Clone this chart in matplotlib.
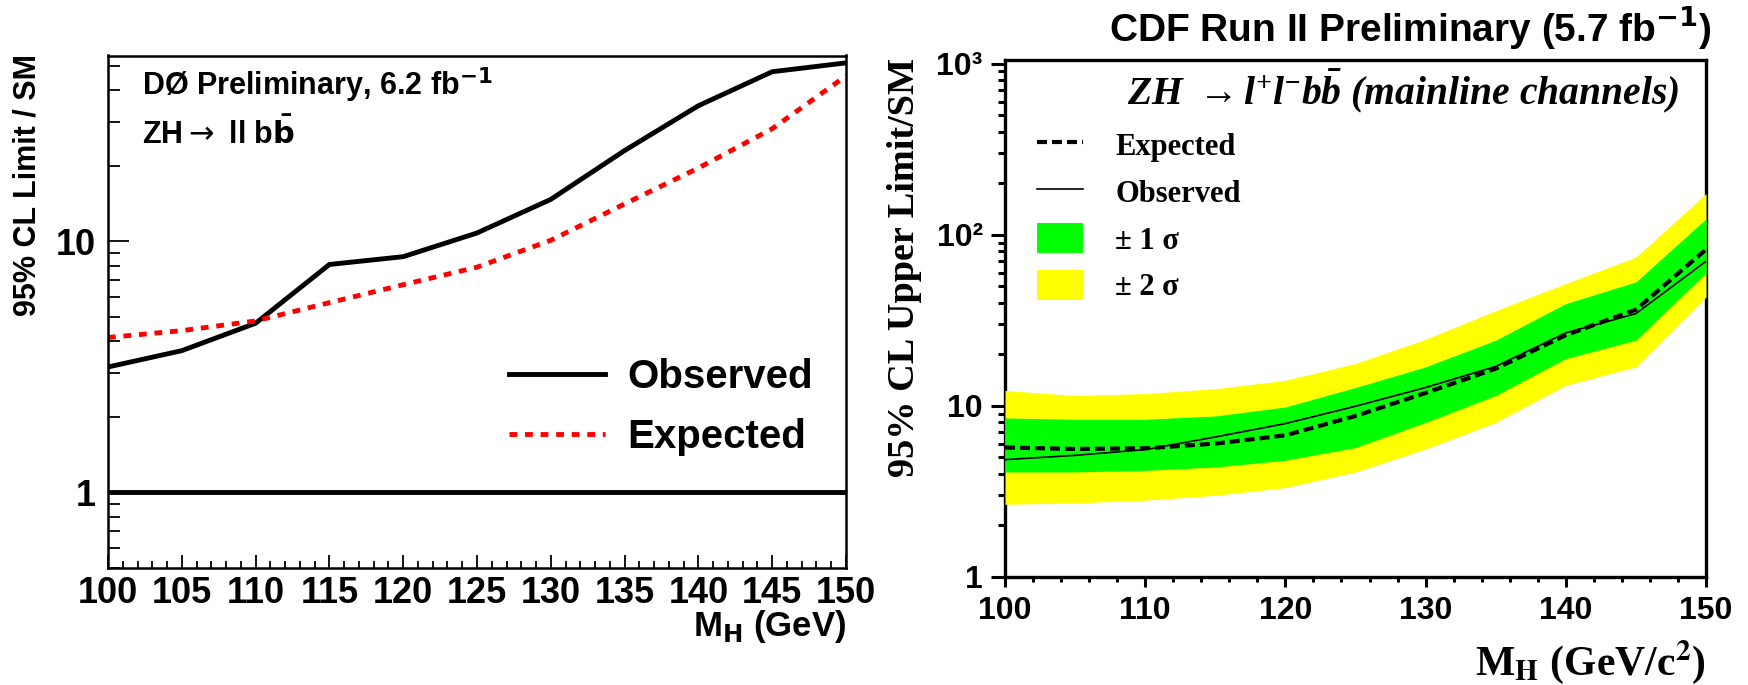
import matplotlib
matplotlib.use("Agg")
import matplotlib.pyplot as plt
from matplotlib import font_manager
from matplotlib.lines import Line2D
from matplotlib.patches import Patch
from matplotlib.ticker import MultipleLocator, LogLocator, NullFormatter

# D0 ZH -> llbb limits (ratio to SM)
d0_mass = [100, 105, 110, 115, 120, 125, 130, 135, 140, 145, 150]
d0_obs = [3.16, 3.67, 4.72, 8.09, 8.69, 10.8, 14.7, 23.0, 34.7, 47.4, 51.4]
d0_exp = [4.14, 4.41, 4.82, 5.70, 6.72, 7.89, 10.1, 14.1, 19.6, 28.1, 45.6]

# CDF ZH -> llbb limits with 1 and 2 sigma bands
cdf_mass = [100, 105, 110, 115, 120, 125, 130, 135, 140, 145, 150]
cdf_exp = [5.71, 5.60, 5.65, 6.02, 6.73, 8.73, 11.9, 16.5, 25.9, 36.5, 82.0]
cdf_obs = [4.85, 5.14, 5.55, 6.58, 7.88, 9.95, 12.8, 17.0, 26.7, 34.6, 70.0]
cdf_1s_lo = [4.11, 4.11, 4.20, 4.39, 4.81, 5.71, 8.0, 11.5, 18.9, 24.2, 59.8]
cdf_1s_hi = [8.50, 8.35, 8.35, 8.73, 9.85, 12.8, 16.9, 24.2, 39.6, 53.0, 124.0]
cdf_2s_lo = [2.66, 2.71, 2.81, 3.00, 3.33, 4.11, 5.6, 8.0, 13.2, 16.9, 43.3]
cdf_2s_hi = [12.3, 11.5, 11.8, 12.6, 14.1, 17.7, 24.5, 36.0, 51.9, 74.0, 174.0]

d0_xticks = [100, 105, 110, 115, 120, 125, 130, 135, 140, 145, 150]
cdf_xticks = [100, 110, 120, 130, 140, 150]
d0_yticks, d0_ylabels = [1, 10], ["1", "10"]
cdf_yticks, cdf_ylabels = [1, 10, 100, 1000], ["1", "10", "10²", "10³"]

W, H = 1749, 685

installed = {f.name for f in font_manager.fontManager.ttflist}
SANS = "Liberation Sans"
NARROW = "Liberation Sans Narrow" if "Liberation Sans Narrow" in installed else SANS
SERIF = "Liberation Serif"

plt.rcParams["mathtext.fontset"] = "dejavusans"
plt.rcParams["mathtext.rm"] = "Liberation Serif:bold:italic"
plt.rcParams["mathtext.it"] = "Liberation Serif:bold:italic"
plt.rcParams["mathtext.bf"] = "Liberation Serif:bold:italic"
plt.rcParams["mathtext.fallback"] = "stix"


def box(x0, y0, x1, y1):
    return [x0 / W, 1 - y1 / H, (x1 - x0) / W, (y1 - y0) / H]


def pt(x, y):
    return x / W, 1 - y / H


fig = plt.figure(figsize=(W / 100, H / 100), dpi=100)

# ---------------- left: D0 ----------------
axL = fig.add_axes(box(108, 55.5, 846, 568))
axL.set_yscale("log")
axL.plot(d0_mass, d0_obs, color="black", lw=3.5, label="Observed")
axL.plot(d0_mass, d0_exp, color="#ff0000", lw=3.5, linestyle=(0, (1.6, 1.6)), label="Expected")
axL.axhline(1, color="black", lw=3.5)
axL.set_xlim(100, 150)
axL.set_ylim(0.5, 55)

axL.set_xticks(d0_xticks)
axL.xaxis.set_minor_locator(MultipleLocator(1))
axL.set_yticks(d0_yticks, d0_ylabels)
axL.yaxis.set_minor_locator(LogLocator(base=10, subs=range(2, 10)))
axL.yaxis.set_minor_formatter(NullFormatter())
axL.tick_params(which="both", direction="in", top=False, right=False, width=1.3)
axL.tick_params(axis="x", which="major", length=9.5, pad=6)
axL.tick_params(axis="x", which="minor", length=4.7)
axL.tick_params(axis="y", which="major", length=15, pad=9)
axL.tick_params(axis="y", which="minor", length=8.5)
for lab in axL.get_xticklabels() + axL.get_yticklabels():
    lab.set_fontfamily(NARROW)
    lab.set_fontweight("bold")
    lab.set_fontsize(26)
for sp in axL.spines.values():
    sp.set_linewidth(1.8)

axL.legend(loc="upper left", bbox_to_anchor=(0.543, 0.41), frameon=False,
           prop={"family": SANS, "weight": "bold", "size": 29},
           handlelength=2.4, handletextpad=0.55, labelspacing=0.55,
           borderpad=0, borderaxespad=0)

fig.text(*pt(142, 95), "DØ Preliminary, 6.2 fb$^{\\mathbf{-1}}$", family=SANS, weight="bold",
         size=22, ha="left", va="baseline")
fig.text(*pt(142, 144), "ZH$\\rightarrow$ ll b$\\mathbf{\\bar{b}}$", family=SANS, weight="bold",
         size=22, ha="left", va="baseline")
fig.text(*pt(28, 54), "95% CL Limit / SM", family=SANS, weight="bold", size=22,
         rotation=90, ha="center", va="top")
fig.text(*pt(846, 636), "M$_{\\mathbf{H}}$ (GeV)", family=NARROW, weight="bold", size=25,
         ha="right", va="baseline")

# ---------------- right: CDF ----------------
axR = fig.add_axes(box(1005, 60, 1706, 577))
axR.set_yscale("log")
axR.fill_between(cdf_mass, cdf_2s_lo, cdf_2s_hi, color="#ffff00", lw=0, zorder=3)
axR.fill_between(cdf_mass, cdf_1s_lo, cdf_1s_hi, color="#00ff00", lw=0, zorder=3)
axR.plot(cdf_mass, cdf_exp, color="black", lw=3, linestyle=(0, (2.4, 1.2)), zorder=4)
axR.plot(cdf_mass, cdf_obs, color="black", lw=1.2, zorder=4)
axR.axhline(1, color="#9acd32", lw=1.5, zorder=1)
axR.set_xlim(100, 150)
axR.set_ylim(1, 1050)

axR.set_xticks(cdf_xticks)
axR.xaxis.set_minor_locator(MultipleLocator(2))
axR.set_yticks(cdf_yticks, cdf_ylabels)
axR.yaxis.set_minor_locator(LogLocator(base=10, subs=range(2, 10)))
axR.yaxis.set_minor_formatter(NullFormatter())
axR.tick_params(which="both", direction="out", top=False, right=False, width=2.2)
axR.tick_params(axis="x", which="major", length=7, pad=7)
axR.tick_params(axis="x", which="minor", length=3.6)
axR.tick_params(axis="y", which="major", length=10, pad=6)
axR.tick_params(axis="y", which="minor", length=5)
for lab in axR.get_xticklabels() + axR.get_yticklabels():
    lab.set_fontfamily(SANS)
    lab.set_fontweight("bold")
    lab.set_fontsize(23)
for sp in axR.spines.values():
    sp.set_linewidth(2.4)

handles = [
    Line2D([], [], color="black", lw=3, linestyle=(0, (2.4, 1.2))),
    Line2D([], [], color="black", lw=1.2),
    Patch(facecolor="#00ff00", edgecolor="none"),
    Patch(facecolor="#ffff00", edgecolor="none"),
]
labels = ["Expected", "Observed", "± 1 σ", "± 2 σ"]
axR.legend(handles, labels, loc="upper left", bbox_to_anchor=(0.046, 0.866), frameon=False,
           prop={"family": SERIF, "weight": "bold", "size": 22},
           handlelength=1.5, handleheight=1.15, handletextpad=1.05, labelspacing=0.47,
           borderpad=0, borderaxespad=0)

fig.text(*pt(1127, 105), "ZH $\\rightarrow$l$^{+}$l$^{-}$b$\\bar{b}$ (mainline channels)",
         family=SERIF, weight="bold", style="italic", size=28.5, math_fontfamily="custom",
         ha="left", va="baseline")
fig.text(*pt(1410, 41), "CDF Run II Preliminary (5.7 fb$^{\\mathbf{-1}}$)", family=SANS,
         weight="bold", size=28, ha="center", va="baseline")
fig.text(*pt(905, 58), "95% CL Upper Limit/SM", family=SERIF, weight="bold", size=27.5,
         rotation=90, ha="center", va="top")
fig.text(*pt(1706, 675), "M$_{\\mathbf{H}}$ (GeV/c$^{\\mathbf{2}}$)", family=SERIF, weight="bold",
         size=30, math_fontfamily="stix", ha="right", va="baseline")

fig.savefig("out.png", dpi=100)
